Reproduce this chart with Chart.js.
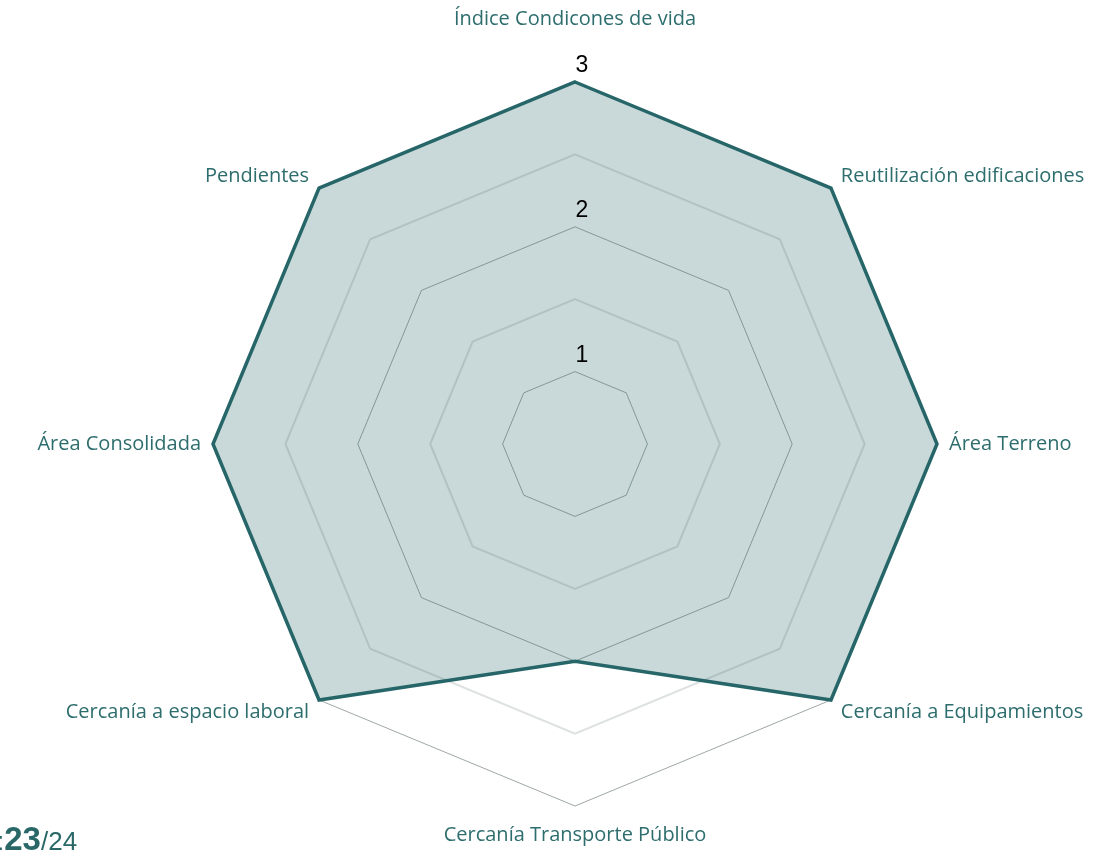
<!DOCTYPE html>
<html>
<head>
<meta charset="utf-8">
<script src="https://cdn.jsdelivr.net/npm/chart.js@4"></script>
<style>
  html, body { margin: 0; padding: 0; background: #fff; overflow: hidden; }
  #wrap { position: relative; width: 1110px; height: 854px; }
  #pager { position: absolute; left: -3px; top: 824px; line-height: 30px; font-family: "Liberation Sans", Arial, sans-serif; color: #2a6868; white-space: nowrap; }
  #pager b { font-size: 33px; }
  #pager span { font-size: 26px; }
</style>
</head>
<body>
<div id="wrap">
  <canvas id="radar" width="1110" height="854"></canvas>
  <div id="pager"><span>:</span><b>23</b><span>/24</span></div>
</div>
<script>
// categorías del radar
const labels = [
  'Índice Condicones de vida',
  'Reutilización edificaciones',
  'Área Terreno',
  'Cercanía a Equipamientos',
  'Cercanía Transporte Público',
  'Cercanía a espacio laboral',
  'Área Consolidada',
  'Pendientes'
];
const values = [3, 3, 3, 3, 2, 3, 3, 3];
const tickLabels = [1, 2, 3];

const teal = 'rgb(38,102,104)';

// etiquetas de los ticks encima de cada anillo
const tickLabelPlugin = {
  id: 'tickLabels',
  afterDatasetsDraw(chart) {
    const s = chart.scales.r;
    const ctx = chart.ctx;
    ctx.save();
    ctx.fillStyle = '#000';
    ctx.font = '23px "Liberation Sans", Arial, sans-serif';
    ctx.textAlign = 'center';
    ctx.textBaseline = 'middle';
    tickLabels.forEach(v => {
      const d = s.getDistanceFromCenterForValue(v);
      ctx.fillText(String(v), s.xCenter + 7, s.yCenter - d - 16);
    });
    ctx.restore();
  }
};

// separación de cada etiqueta respecto al borde
function labelPad(i) {
  if (i === 0) return 61;
  if (i === 4) return 27;
  if (i % 2 === 1) return 14;
  return 12;
}

new Chart(document.getElementById('radar').getContext('2d'), {
  type: 'radar',
  data: {
    labels,
    datasets: [{
      data: values,
      borderColor: teal,
      backgroundColor: 'rgba(38,102,104,0.25)',
      borderWidth: 3.5,
      pointRadius: 0,
      pointHoverRadius: 0,
      tension: 0
    }]
  },
  options: {
    responsive: false,
    animation: false,
    plugins: { legend: { display: false }, tooltip: { enabled: false } },
    scales: {
      r: {
        min: 0.5,
        max: 3,
        ticks: { stepSize: 0.5, display: false },
        angleLines: { display: false },
        grid: {
          color: c => (c.tick && c.tick.value % 1 === 0) ? 'rgba(120,130,130,0.7)' : 'rgba(195,200,200,0.55)',
          lineWidth: c => (c.tick && c.tick.value % 1 === 0) ? 1 : 2
        },
        pointLabels: {
          color: '#2e6d6d',
          font: { family: 'Open Sans', size: 20, lineHeight: 0.2 },
          padding: c => labelPad(c.index)
        }
      }
    }
  },
  plugins: [tickLabelPlugin]
});
</script>
</body>
</html>
